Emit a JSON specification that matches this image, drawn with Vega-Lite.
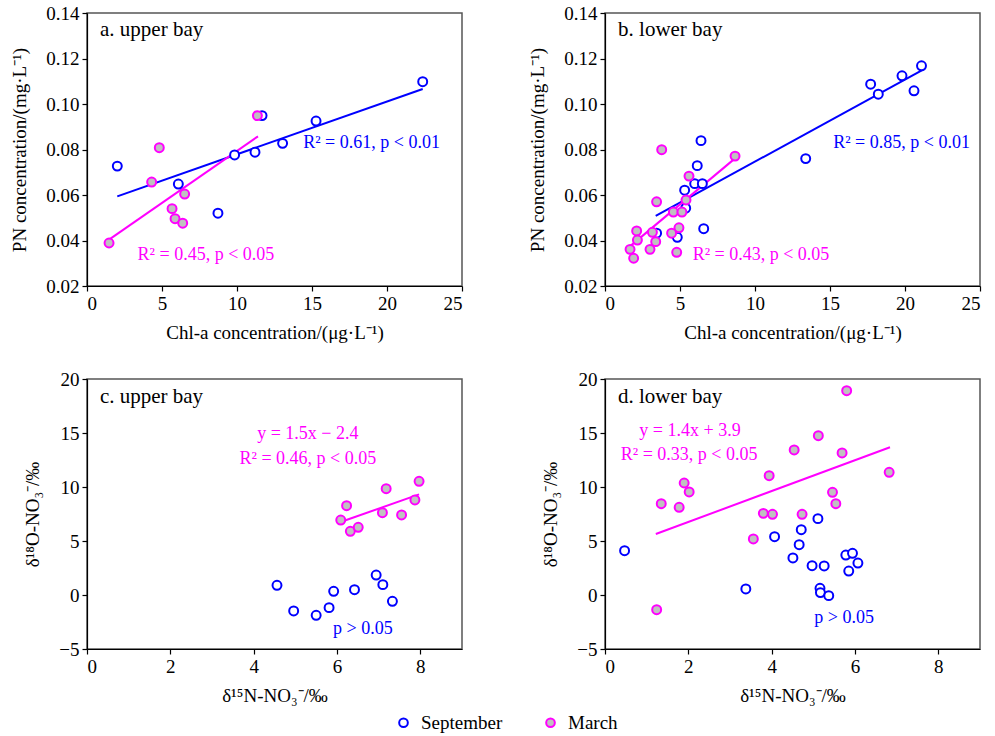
{
  "$schema": "https://vega.github.io/schema/vega-lite/v6.json",
  "padding": {"left": 10, "top": 3, "right": 5, "bottom": 5},
  "background": "white",
  "config": {
    "view": {"stroke": "#555555", "strokeWidth": 1.5},
    "font": "Liberation Serif",
    "text": {"font": "Liberation Serif"},
    "axis": {
      "grid": false, "domainColor": "#000000", "domainWidth": 1.2, "tickColor": "#000000", "tickWidth": 1.2, "tickSize": 5,
      "labelFont": "Liberation Serif", "labelFontSize": 19, "labelColor": "#000000",
      "titleFont": "Liberation Serif", "titleFontSize": 19, "titleFontWeight": "normal", "titleColor": "#000000",
      "labelPadding": 3
    },
    "axisX": {"titlePadding": 10},
    "axisY": {"titlePadding": 16},
    "legend": {"labelFont": "Liberation Serif", "labelFontSize": 19, "labelColor": "#000000"}
  },
  "datasets": {
    "pts": [
      {"p": "a", "s": "September", "x": 2.02, "y": 0.0727},
      {"p": "a", "s": "September", "x": 6.09, "y": 0.0648},
      {"p": "a", "s": "September", "x": 8.73, "y": 0.052},
      {"p": "a", "s": "September", "x": 9.84, "y": 0.0776},
      {"p": "a", "s": "September", "x": 11.2, "y": 0.0788},
      {"p": "a", "s": "September", "x": 11.67, "y": 0.0949},
      {"p": "a", "s": "September", "x": 13.04, "y": 0.0827},
      {"p": "a", "s": "September", "x": 15.27, "y": 0.0925},
      {"p": "a", "s": "September", "x": 22.38, "y": 0.1098},
      {"p": "a", "s": "March", "x": 1.47, "y": 0.0389},
      {"p": "a", "s": "March", "x": 4.31, "y": 0.0657},
      {"p": "a", "s": "March", "x": 4.82, "y": 0.0808},
      {"p": "a", "s": "March", "x": 5.67, "y": 0.054},
      {"p": "a", "s": "March", "x": 5.87, "y": 0.0496},
      {"p": "a", "s": "March", "x": 6.38, "y": 0.0476},
      {"p": "a", "s": "March", "x": 6.51, "y": 0.0604},
      {"p": "a", "s": "March", "x": 11.36, "y": 0.0949},
      {"p": "b", "s": "September", "x": 6.4, "y": 0.0839},
      {"p": "b", "s": "September", "x": 13.38, "y": 0.076},
      {"p": "b", "s": "September", "x": 6.15, "y": 0.0729},
      {"p": "b", "s": "September", "x": 5.98, "y": 0.065},
      {"p": "b", "s": "September", "x": 6.49, "y": 0.065},
      {"p": "b", "s": "September", "x": 5.31, "y": 0.0621},
      {"p": "b", "s": "September", "x": 5.38, "y": 0.0542},
      {"p": "b", "s": "September", "x": 6.58, "y": 0.0452},
      {"p": "b", "s": "September", "x": 4.82, "y": 0.0414},
      {"p": "b", "s": "September", "x": 3.44, "y": 0.0432},
      {"p": "b", "s": "September", "x": 17.71, "y": 0.1087},
      {"p": "b", "s": "September", "x": 18.22, "y": 0.1043},
      {"p": "b", "s": "September", "x": 19.8, "y": 0.1124},
      {"p": "b", "s": "September", "x": 20.6, "y": 0.1058},
      {"p": "b", "s": "September", "x": 21.1, "y": 0.1168},
      {"p": "b", "s": "March", "x": 3.78, "y": 0.0799},
      {"p": "b", "s": "March", "x": 8.67, "y": 0.0771},
      {"p": "b", "s": "March", "x": 5.6, "y": 0.0683},
      {"p": "b", "s": "March", "x": 5.4, "y": 0.0578},
      {"p": "b", "s": "March", "x": 3.44, "y": 0.057},
      {"p": "b", "s": "March", "x": 4.56, "y": 0.0525},
      {"p": "b", "s": "March", "x": 5.13, "y": 0.0525},
      {"p": "b", "s": "March", "x": 4.93, "y": 0.0456},
      {"p": "b", "s": "March", "x": 2.11, "y": 0.0442},
      {"p": "b", "s": "March", "x": 3.16, "y": 0.0436},
      {"p": "b", "s": "March", "x": 4.44, "y": 0.0432},
      {"p": "b", "s": "March", "x": 2.16, "y": 0.0402},
      {"p": "b", "s": "March", "x": 3.38, "y": 0.0395},
      {"p": "b", "s": "March", "x": 1.67, "y": 0.0361},
      {"p": "b", "s": "March", "x": 3.0, "y": 0.0361},
      {"p": "b", "s": "March", "x": 4.78, "y": 0.0348},
      {"p": "b", "s": "March", "x": 1.91, "y": 0.0322},
      {"p": "c", "s": "September", "x": 4.56, "y": 0.9},
      {"p": "c", "s": "September", "x": 4.96, "y": -1.48},
      {"p": "c", "s": "September", "x": 5.5, "y": -1.88},
      {"p": "c", "s": "September", "x": 5.81, "y": -1.17},
      {"p": "c", "s": "September", "x": 5.92, "y": 0.34},
      {"p": "c", "s": "September", "x": 6.42, "y": 0.49},
      {"p": "c", "s": "September", "x": 6.94, "y": 1.85},
      {"p": "c", "s": "September", "x": 7.1, "y": 0.96},
      {"p": "c", "s": "September", "x": 7.33, "y": -0.58},
      {"p": "c", "s": "March", "x": 6.09, "y": 6.94},
      {"p": "c", "s": "March", "x": 6.23, "y": 8.27},
      {"p": "c", "s": "March", "x": 6.32, "y": 5.9},
      {"p": "c", "s": "March", "x": 6.51, "y": 6.27},
      {"p": "c", "s": "March", "x": 7.09, "y": 7.62},
      {"p": "c", "s": "March", "x": 7.18, "y": 9.84},
      {"p": "c", "s": "March", "x": 7.55, "y": 7.41},
      {"p": "c", "s": "March", "x": 7.87, "y": 8.8},
      {"p": "c", "s": "March", "x": 7.97, "y": 10.53},
      {"p": "d", "s": "September", "x": 0.47, "y": 4.1},
      {"p": "d", "s": "September", "x": 3.38, "y": 0.56},
      {"p": "d", "s": "September", "x": 4.07, "y": 5.4},
      {"p": "d", "s": "September", "x": 4.51, "y": 3.43},
      {"p": "d", "s": "September", "x": 4.66, "y": 4.66},
      {"p": "d", "s": "September", "x": 4.71, "y": 6.05},
      {"p": "d", "s": "September", "x": 4.97, "y": 2.71},
      {"p": "d", "s": "September", "x": 5.11, "y": 7.07},
      {"p": "d", "s": "September", "x": 5.16, "y": 0.62},
      {"p": "d", "s": "September", "x": 5.17, "y": 0.22},
      {"p": "d", "s": "September", "x": 5.26, "y": 2.69},
      {"p": "d", "s": "September", "x": 5.37, "y": -0.06},
      {"p": "d", "s": "September", "x": 5.78, "y": 3.7},
      {"p": "d", "s": "September", "x": 5.85, "y": 2.22},
      {"p": "d", "s": "September", "x": 5.94, "y": 3.86},
      {"p": "d", "s": "September", "x": 6.07, "y": 2.96},
      {"p": "d", "s": "March", "x": 1.24, "y": -1.36},
      {"p": "d", "s": "March", "x": 1.35, "y": 8.45},
      {"p": "d", "s": "March", "x": 1.78, "y": 8.12},
      {"p": "d", "s": "March", "x": 1.9, "y": 10.37},
      {"p": "d", "s": "March", "x": 2.02, "y": 9.54},
      {"p": "d", "s": "March", "x": 3.56, "y": 5.19},
      {"p": "d", "s": "March", "x": 3.8, "y": 7.56},
      {"p": "d", "s": "March", "x": 3.94, "y": 11.05},
      {"p": "d", "s": "March", "x": 4.02, "y": 7.47},
      {"p": "d", "s": "March", "x": 4.54, "y": 13.43},
      {"p": "d", "s": "March", "x": 4.73, "y": 7.47},
      {"p": "d", "s": "March", "x": 5.12, "y": 14.75},
      {"p": "d", "s": "March", "x": 5.46, "y": 9.51},
      {"p": "d", "s": "March", "x": 5.54, "y": 8.45},
      {"p": "d", "s": "March", "x": 5.69, "y": 13.15},
      {"p": "d", "s": "March", "x": 5.8, "y": 18.92},
      {"p": "d", "s": "March", "x": 6.82, "y": 11.36}
    ],
    "lines": [
      {"p": "a", "s": "September", "x": 2.02, "y": 0.0594},
      {"p": "a", "s": "September", "x": 22.38, "y": 0.1066},
      {"p": "a", "s": "March", "x": 1.47, "y": 0.0404},
      {"p": "a", "s": "March", "x": 11.4, "y": 0.0858},
      {"p": "b", "s": "September", "x": 3.38, "y": 0.0508},
      {"p": "b", "s": "September", "x": 21.18, "y": 0.115},
      {"p": "b", "s": "March", "x": 1.62, "y": 0.0372},
      {"p": "b", "s": "March", "x": 8.67, "y": 0.0761},
      {"p": "c", "s": "March", "x": 6.07, "y": 6.73},
      {"p": "c", "s": "March", "x": 7.97, "y": 9.32},
      {"p": "d", "s": "March", "x": 1.22, "y": 5.65},
      {"p": "d", "s": "March", "x": 6.84, "y": 13.68}
    ],
    "notes": [
      {"p": "a", "s": "September", "x": 18.97, "y": 0.0829, "t": "R² = 0.61, p < 0.01"},
      {"p": "a", "s": "March", "x": 7.93, "y": 0.0336, "t": "R² = 0.45, p < 0.05"},
      {"p": "b", "s": "September", "x": 19.77, "y": 0.0829, "t": "R² = 0.85, p < 0.01"},
      {"p": "b", "s": "March", "x": 10.4, "y": 0.0336, "t": "R² = 0.43, p < 0.05"},
      {"p": "c", "s": "March", "x": 5.3, "y": 14.9, "t": "y = 1.5x − 2.4"},
      {"p": "c", "s": "March", "x": 5.3, "y": 12.6, "t": "R² = 0.46, p < 0.05"},
      {"p": "c", "s": "September", "x": 6.62, "y": -3.15, "t": "p > 0.05"},
      {"p": "d", "s": "March", "x": 2.04, "y": 15.19, "t": "y = 1.4x + 3.9"},
      {"p": "d", "s": "March", "x": 2.02, "y": 12.96, "t": "R² = 0.33, p < 0.05"},
      {"p": "d", "s": "September", "x": 5.74, "y": -2.13, "t": "p > 0.05"}
    ],
    "labels": [
      {"p": "a", "x": 0.87, "y": 0.1325, "t": "a. upper bay"},
      {"p": "b", "x": 0.87, "y": 0.1325, "t": "b. lower bay"},
      {"p": "c", "x": 0.31, "y": 18.33, "t": "c. upper bay"},
      {"p": "d", "x": 0.31, "y": 18.33, "t": "d. lower bay"}
    ]
  },
  "spacing": 26,
  "vconcat": [
    {
      "bounds": "flush",
      "spacing": 143,
      "hconcat": [
        {
          "width": 375, "height": 273,
          "encoding": {
            "x": {"field": "x", "type": "quantitative", "scale": {"domain": [0, 25], "nice": false, "zero": false}, "axis": {"values": [0, 5, 10, 15, 20, 25], "title": "Chl-a concentration/(μg·L⁻¹)"}},
            "y": {"field": "y", "type": "quantitative", "scale": {"domain": [0.02, 0.14], "nice": false, "zero": false}, "axis": {"values": [0.02, 0.04, 0.06, 0.08, 0.1, 0.12, 0.14], "format": ".2f", "title": "PN concentration/(mg·L⁻¹)"}}
          },
          "layer": [
            {"data": {"name": "lines"}, "transform": [{"filter": "datum.p == 'a' && datum.s == 'September'"}], "mark": {"type": "line", "color": "#0000ff", "strokeWidth": 2}},
            {"data": {"name": "lines"}, "transform": [{"filter": "datum.p == 'a' && datum.s == 'March'"}], "mark": {"type": "line", "color": "#ff00ff", "strokeWidth": 2}},
            {"data": {"name": "pts"}, "transform": [{"filter": "datum.p == 'a'"}], "mark": {"type": "point", "shape": "circle", "size": 80, "strokeWidth": 2, "opacity": 1, "filled": false},
              "encoding": {
                "stroke": {"field": "s", "type": "nominal", "scale": {"domain": ["September", "March"], "range": ["#0000ff", "#ff00ff"]}, "title": null, "legend": {"orient": "none", "legendX": 307, "legendY": 700, "direction": "horizontal", "columnPadding": 38, "symbolStrokeWidth": 2, "symbolSize": 75, "labelOffset": 8}},
                "fill": {"field": "s", "type": "nominal", "scale": {"domain": ["September", "March"], "range": ["#ffffff", "#c0c0c0"]}, "title": null, "legend": {"orient": "none", "legendX": 307, "legendY": 700, "direction": "horizontal", "columnPadding": 38, "symbolStrokeWidth": 2, "symbolSize": 75, "labelOffset": 8}}
              }},
            {"data": {"name": "notes"}, "transform": [{"filter": "datum.p == 'a' && datum.s == 'September'"}], "mark": {"type": "text", "color": "#0000ff", "fontSize": 18, "align": "center", "baseline": "middle"}, "encoding": {"text": {"field": "t"}}},
            {"data": {"name": "notes"}, "transform": [{"filter": "datum.p == 'a' && datum.s == 'March'"}], "mark": {"type": "text", "color": "#ff00ff", "fontSize": 18, "align": "center", "baseline": "middle"}, "encoding": {"text": {"field": "t"}}},
            {"data": {"name": "labels"}, "transform": [{"filter": "datum.p == 'a'"}], "mark": {"type": "text", "color": "#000000", "fontSize": 21, "align": "left", "baseline": "middle"}, "encoding": {"text": {"field": "t"}}}
          ]
        },
        {
          "width": 375, "height": 273,
          "encoding": {
            "x": {"field": "x", "type": "quantitative", "scale": {"domain": [0, 25], "nice": false, "zero": false}, "axis": {"values": [0, 5, 10, 15, 20, 25], "title": "Chl-a concentration/(μg·L⁻¹)"}},
            "y": {"field": "y", "type": "quantitative", "scale": {"domain": [0.02, 0.14], "nice": false, "zero": false}, "axis": {"values": [0.02, 0.04, 0.06, 0.08, 0.1, 0.12, 0.14], "format": ".2f", "title": "PN concentration/(mg·L⁻¹)"}}
          },
          "layer": [
            {"data": {"name": "lines"}, "transform": [{"filter": "datum.p == 'b' && datum.s == 'September'"}], "mark": {"type": "line", "color": "#0000ff", "strokeWidth": 2}},
            {"data": {"name": "lines"}, "transform": [{"filter": "datum.p == 'b' && datum.s == 'March'"}], "mark": {"type": "line", "color": "#ff00ff", "strokeWidth": 2}},
            {"data": {"name": "pts"}, "transform": [{"filter": "datum.p == 'b'"}], "mark": {"type": "point", "shape": "circle", "size": 80, "strokeWidth": 2, "opacity": 1, "filled": false},
              "encoding": {
                "stroke": {"field": "s", "type": "nominal", "scale": {"domain": ["September", "March"], "range": ["#0000ff", "#ff00ff"]}, "title": null},
                "fill": {"field": "s", "type": "nominal", "scale": {"domain": ["September", "March"], "range": ["#ffffff", "#c0c0c0"]}, "title": null}
              }},
            {"data": {"name": "notes"}, "transform": [{"filter": "datum.p == 'b' && datum.s == 'September'"}], "mark": {"type": "text", "color": "#0000ff", "fontSize": 18, "align": "center", "baseline": "middle"}, "encoding": {"text": {"field": "t"}}},
            {"data": {"name": "notes"}, "transform": [{"filter": "datum.p == 'b' && datum.s == 'March'"}], "mark": {"type": "text", "color": "#ff00ff", "fontSize": 18, "align": "center", "baseline": "middle"}, "encoding": {"text": {"field": "t"}}},
            {"data": {"name": "labels"}, "transform": [{"filter": "datum.p == 'b'"}], "mark": {"type": "text", "color": "#000000", "fontSize": 21, "align": "left", "baseline": "middle"}, "encoding": {"text": {"field": "t"}}}
          ]
        }
      ]
    },
    {
      "bounds": "flush",
      "spacing": 143,
      "hconcat": [
        {
          "width": 375, "height": 270,
          "encoding": {
            "x": {"field": "x", "type": "quantitative", "scale": {"domain": [0, 9], "nice": false, "zero": false}, "axis": {"values": [0, 2, 4, 6, 8], "title": "δ¹⁵N-NO₃⁻/‰"}},
            "y": {"field": "y", "type": "quantitative", "scale": {"domain": [-5, 20], "nice": false, "zero": false}, "axis": {"values": [-5, 0, 5, 10, 15, 20], "title": "δ¹⁸O-NO₃⁻/‰"}}
          },
          "layer": [
            {"data": {"name": "lines"}, "transform": [{"filter": "datum.p == 'c' && datum.s == 'March'"}], "mark": {"type": "line", "color": "#ff00ff", "strokeWidth": 2}},
            {"data": {"name": "pts"}, "transform": [{"filter": "datum.p == 'c'"}], "mark": {"type": "point", "shape": "circle", "size": 80, "strokeWidth": 2, "opacity": 1, "filled": false},
              "encoding": {
                "stroke": {"field": "s", "type": "nominal", "scale": {"domain": ["September", "March"], "range": ["#0000ff", "#ff00ff"]}, "title": null},
                "fill": {"field": "s", "type": "nominal", "scale": {"domain": ["September", "March"], "range": ["#ffffff", "#c0c0c0"]}, "title": null}
              }},
            {"data": {"name": "notes"}, "transform": [{"filter": "datum.p == 'c' && datum.s == 'September'"}], "mark": {"type": "text", "color": "#0000ff", "fontSize": 18, "align": "center", "baseline": "middle"}, "encoding": {"text": {"field": "t"}}},
            {"data": {"name": "notes"}, "transform": [{"filter": "datum.p == 'c' && datum.s == 'March'"}], "mark": {"type": "text", "color": "#ff00ff", "fontSize": 18, "align": "center", "baseline": "middle"}, "encoding": {"text": {"field": "t"}}},
            {"data": {"name": "labels"}, "transform": [{"filter": "datum.p == 'c'"}], "mark": {"type": "text", "color": "#000000", "fontSize": 21, "align": "left", "baseline": "middle"}, "encoding": {"text": {"field": "t"}}}
          ]
        },
        {
          "width": 375, "height": 270,
          "encoding": {
            "x": {"field": "x", "type": "quantitative", "scale": {"domain": [0, 9], "nice": false, "zero": false}, "axis": {"values": [0, 2, 4, 6, 8], "title": "δ¹⁵N-NO₃⁻/‰"}},
            "y": {"field": "y", "type": "quantitative", "scale": {"domain": [-5, 20], "nice": false, "zero": false}, "axis": {"values": [-5, 0, 5, 10, 15, 20], "title": "δ¹⁸O-NO₃⁻/‰"}}
          },
          "layer": [
            {"data": {"name": "lines"}, "transform": [{"filter": "datum.p == 'd' && datum.s == 'March'"}], "mark": {"type": "line", "color": "#ff00ff", "strokeWidth": 2}},
            {"data": {"name": "pts"}, "transform": [{"filter": "datum.p == 'd'"}], "mark": {"type": "point", "shape": "circle", "size": 80, "strokeWidth": 2, "opacity": 1, "filled": false},
              "encoding": {
                "stroke": {"field": "s", "type": "nominal", "scale": {"domain": ["September", "March"], "range": ["#0000ff", "#ff00ff"]}, "title": null},
                "fill": {"field": "s", "type": "nominal", "scale": {"domain": ["September", "March"], "range": ["#ffffff", "#c0c0c0"]}, "title": null}
              }},
            {"data": {"name": "notes"}, "transform": [{"filter": "datum.p == 'd' && datum.s == 'September'"}], "mark": {"type": "text", "color": "#0000ff", "fontSize": 18, "align": "center", "baseline": "middle"}, "encoding": {"text": {"field": "t"}}},
            {"data": {"name": "notes"}, "transform": [{"filter": "datum.p == 'd' && datum.s == 'March'"}], "mark": {"type": "text", "color": "#ff00ff", "fontSize": 18, "align": "center", "baseline": "middle"}, "encoding": {"text": {"field": "t"}}},
            {"data": {"name": "labels"}, "transform": [{"filter": "datum.p == 'd'"}], "mark": {"type": "text", "color": "#000000", "fontSize": 21, "align": "left", "baseline": "middle"}, "encoding": {"text": {"field": "t"}}}
          ]
        }
      ]
    }
  ]
}
